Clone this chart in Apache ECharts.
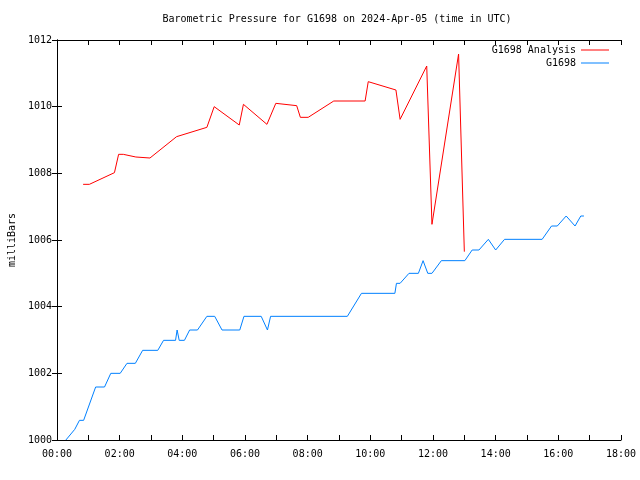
<!DOCTYPE html>
<html>
<head>
<meta charset="utf-8">
<script src="https://cdn.jsdelivr.net/npm/echarts@6/dist/echarts.min.js"></script>
<style>html,body{margin:0;padding:0;background:#fff}#c{width:640px;height:480px}</style>
</head>
<body>
<div id="c"></div>
<script>
// Data (time in UTC, pressure in milliBars)
const analysisTimes = ["00:50","01:02","01:50","01:58","02:07","02:31","02:58","03:49","04:47","05:01","05:49","05:57","06:42","06:59","07:39","07:46","08:01","08:50","09:50","09:56","10:49","10:57","11:48","11:58","12:49","13:00"];
const analysisValues = [1007.67,1007.67,1008.02,1008.57,1008.57,1008.49,1008.46,1009.10,1009.38,1010.00,1009.45,1010.07,1009.47,1010.10,1010.03,1009.68,1009.68,1010.17,1010.17,1010.75,1010.50,1009.62,1011.22,1006.47,1011.58,1005.65];

const obsTimes = ["00:17","00:34","00:43","00:51","01:14","01:31","01:43","02:01","02:14","02:30","02:44","03:13","03:24","03:47","03:50","03:54","04:04","04:14","04:29","04:47","05:02","05:16","05:50","05:58","06:31","06:43","06:49","09:16","09:43","10:47","10:50","10:57","11:14","11:32","11:41","11:50","11:58","12:16","13:01","13:15","13:28","13:46","14:00","14:17","15:29","15:47","15:58","16:15","16:32","16:43","16:49"];
const obsValues = [1000.00,1000.32,1000.59,1000.59,1001.59,1001.59,1002.00,1002.00,1002.30,1002.30,1002.69,1002.69,1002.99,1002.99,1003.30,1002.99,1002.99,1003.30,1003.30,1003.71,1003.71,1003.30,1003.30,1003.71,1003.71,1003.30,1003.71,1003.71,1004.40,1004.40,1004.70,1004.70,1005.00,1005.00,1005.38,1005.00,1005.00,1005.38,1005.38,1005.70,1005.70,1006.02,1005.70,1006.02,1006.02,1006.42,1006.42,1006.72,1006.42,1006.72,1006.72];

const xTickLabels = ["00:00","02:00","04:00","06:00","08:00","10:00","12:00","14:00","16:00","18:00"];
const yTickLabels = ["1000","1002","1004","1006","1008","1010","1012"];

const seriesNames = ["G1698 Analysis","G1698"];
const titleText = "Barometric Pressure for G1698 on 2024-Apr-05 (time in UTC)";
const yName = "milliBars";

function toH(s){const p=s.split(':');return (+p[0])+(+p[1])/60;}
const analysisData = analysisTimes.map((t,i)=>[toH(t),analysisValues[i]]);
const obsData = obsTimes.map((t,i)=>[toH(t),obsValues[i]]);

const FONT = "DejaVu Sans Mono";
const chart = echarts.init(document.getElementById('c'));
const tickStyle = {show:true, inside:true, length:5, lineStyle:{color:'#000',width:1}};
const lineAx = {show:true, lineStyle:{color:'#000',width:1}};
const legendCommon = {orient:'vertical',right:31,align:'right',padding:0,icon:'rect',itemWidth:28,itemHeight:1,
  textStyle:{fontFamily:FONT,fontSize:10,color:'#000'}};
chart.setOption({
  animation:false,
  backgroundColor:'#fff',
  title:{text:titleText,left:337,textAlign:'center',top:14,padding:0,textStyle:{fontFamily:FONT,fontSize:10,fontWeight:'normal',color:'#000'}},
  legend:[
    Object.assign({data:[seriesNames[0]],top:45},legendCommon),
    Object.assign({data:[seriesNames[1]],top:58},legendCommon)
  ],
  grid:{left:57,right:19,top:40,bottom:40,containLabel:false,outerBoundsMode:'none'},
  xAxis:[
    {type:'value',min:0,max:18,interval:1,position:'bottom',axisLine:lineAx,axisTick:tickStyle,splitLine:{show:false},
     axisLabel:{margin:9,fontFamily:FONT,fontSize:10,color:'#000',
       formatter:function(v){const h=Math.round(v);if(h%2)return '';return xTickLabels[h/2]||'';}}},
    {type:'value',min:0,max:18,interval:1,position:'top',axisLine:lineAx,axisTick:tickStyle,splitLine:{show:false},axisLabel:{show:false}}
  ],
  yAxis:[
    {type:'value',min:1000,max:1012,interval:2,position:'left',axisLine:lineAx,axisTick:tickStyle,splitLine:{show:false},
     name:yName,nameLocation:'middle',nameGap:40,nameRotate:90,nameTextStyle:{fontFamily:FONT,fontSize:10,color:'#000'},
     axisLabel:{margin:5,fontFamily:FONT,fontSize:10,color:'#000',formatter:function(v){return yTickLabels[Math.round((v-1000)/2)]||'';}}},
    {type:'value',min:1000,max:1012,interval:2,position:'right',axisLine:lineAx,axisTick:tickStyle,splitLine:{show:false},axisLabel:{show:false}}
  ],
  series:[
    {name:seriesNames[0],type:'line',data:analysisData,symbol:'none',showSymbol:false,lineStyle:{color:'#ff0000',width:1},itemStyle:{color:'#ff0000'}},
    {name:seriesNames[1],type:'line',data:obsData,symbol:'none',showSymbol:false,lineStyle:{color:'#0080ff',width:1},itemStyle:{color:'#0080ff'}}
  ]
});
</script>
</body>
</html>
